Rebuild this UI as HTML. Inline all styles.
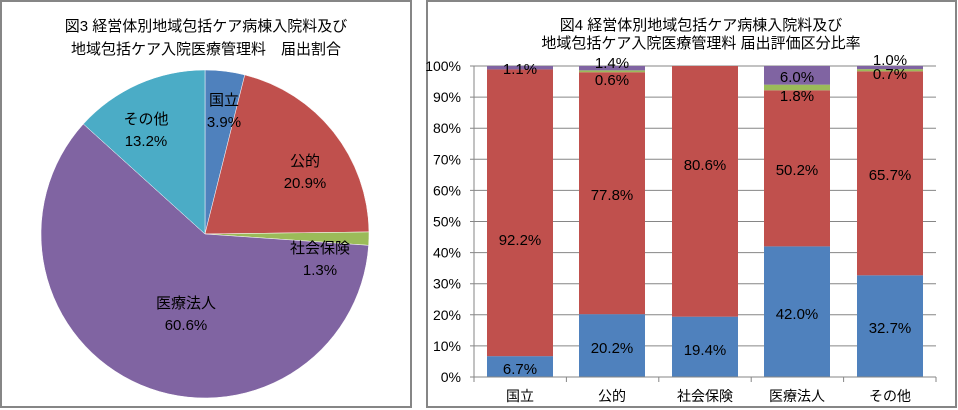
<!DOCTYPE html>
<html><head><meta charset="utf-8"><style>
body{margin:0;background:#fff;}
svg{display:block;font-family:"Liberation Sans","Noto Sans CJK JP",sans-serif;}
</style></head><body>
<svg width="958" height="410" viewBox="0 0 958 410" xmlns="http://www.w3.org/2000/svg">
<rect x="1" y="1" width="410" height="406" fill="#fff" stroke="#868686" stroke-width="2"/>
<rect x="427" y="1" width="529" height="406" fill="#fff" stroke="#868686" stroke-width="2"/>
<g font-size="15" fill="#000" text-anchor="middle">
<text x="206" y="31">図3  経営体別地域包括ケア病棟入院料及び</text>
<text x="206" y="54">地域包括ケア入院医療管理料　届出割合</text>
<text x="701" y="30">図4  経営体別地域包括ケア病棟入院料及び</text>
<text x="701" y="48">地域包括ケア入院医療管理料  届出評価区分比率</text>
</g>
<g id="pie"></g>
<g font-size="15" text-anchor="middle">
<text x="224" y="105">国立</text><text x="224" y="127">3.9%</text>
<text x="305" y="166">公的</text><text x="305" y="188">20.9%</text>
<text x="320" y="253">社会保険</text><text x="320" y="275">1.3%</text>
<text x="186" y="308">医療法人</text><text x="186" y="330">60.6%</text>
<text x="146" y="124">その他</text><text x="146" y="146">13.2%</text>
</g>
<g id="bars"></g>
<script>
(function(){
var ns="http://www.w3.org/2000/svg";
var cx=205,cy=234,r=164;
var vals=[3.9,20.9,1.3,60.6,13.3],cols=["#4F81BD","#C0504D","#9BBB59","#8064A2","#4BACC6"];
var g=document.getElementById("pie"),a=0;
vals.forEach(function(v,i){
 var a2=a+v/100*2*Math.PI;
 var x1=cx+r*Math.sin(a),y1=cy-r*Math.cos(a),x2=cx+r*Math.sin(a2),y2=cy-r*Math.cos(a2);
 var p=document.createElementNS(ns,"path");
 p.setAttribute("d","M"+cx+","+cy+"L"+x1+","+y1+"A"+r+","+r+" 0 "+((a2-a)>Math.PI?1:0)+" 1 "+x2+","+y2+"Z");
 p.setAttribute("fill",cols[i]);p.setAttribute("stroke","#fff");p.setAttribute("stroke-width","0.5");
 g.appendChild(p);a=a2;
});
var b=document.getElementById("bars");
function el(t,at,txt){var e=document.createElementNS(ns,t);for(var k in at)e.setAttribute(k,at[k]);if(txt)e.textContent=txt;b.appendChild(e);return e;}
var y0=377,s=3.11,x0=474,x1=936;
for(var i=0;i<=10;i++){var y=y0-i*10*s;
 el("line",{x1:x0-4,x2:x1,y1:y,y2:y,stroke:"#868686","stroke-width":1});
 el("text",{x:461,y:y+5,"font-size":"14","text-anchor":"end"},(i*10)+"%");}
var data=[[6.7,92.2,0,1.1],[20.2,77.8,0.6,1.4],[19.4,80.6,0,0],[42.0,50.2,1.8,6.0],[32.7,65.6,0.7,1.0]];
var centers=[520,612,705,797,890];
data.forEach(function(d,j){var acc=0;d.forEach(function(v,k){
 if(v>0)el("rect",{x:centers[j]-33,width:66,y:y0-(acc+v)*s,height:v*s,fill:cols[k]});acc+=v;});});
el("line",{x1:x0,x2:x0,y1:y0-100*s,y2:y0,stroke:"#868686"});
el("line",{x1:x0,x2:x1,y1:y0,y2:y0,stroke:"#868686"});
for(var i=0;i<=5;i++){var x=x0+i*(x1-x0)/5;el("line",{x1:x,x2:x,y1:y0,y2:y0+5,stroke:"#868686"});}
var cats=["国立","公的","社会保険","医療法人","その他"];
cats.forEach(function(c,j){el("text",{x:centers[j],y:401,"font-size":"14","text-anchor":"middle"},c);});
var L=[[520,74,"1.1%"],[520,245,"92.2%"],[520,374,"6.7%"],
[612,68,"1.4%"],[612,85,"0.6%"],[612,200,"77.8%"],[612,353,"20.2%"],
[705,170,"80.6%"],[705,355,"19.4%"],
[797,82,"6.0%"],[797,101,"1.8%"],[797,175,"50.2%"],[797,319,"42.0%"],
[890,65,"1.0%"],[890,79,"0.7%"],[890,180,"65.7%"],[890,333,"32.7%"]];
L.forEach(function(l){el("text",{x:l[0],y:l[1],"font-size":"15","text-anchor":"middle"},l[2]);});
})();
</script>
</svg>
</body></html>
